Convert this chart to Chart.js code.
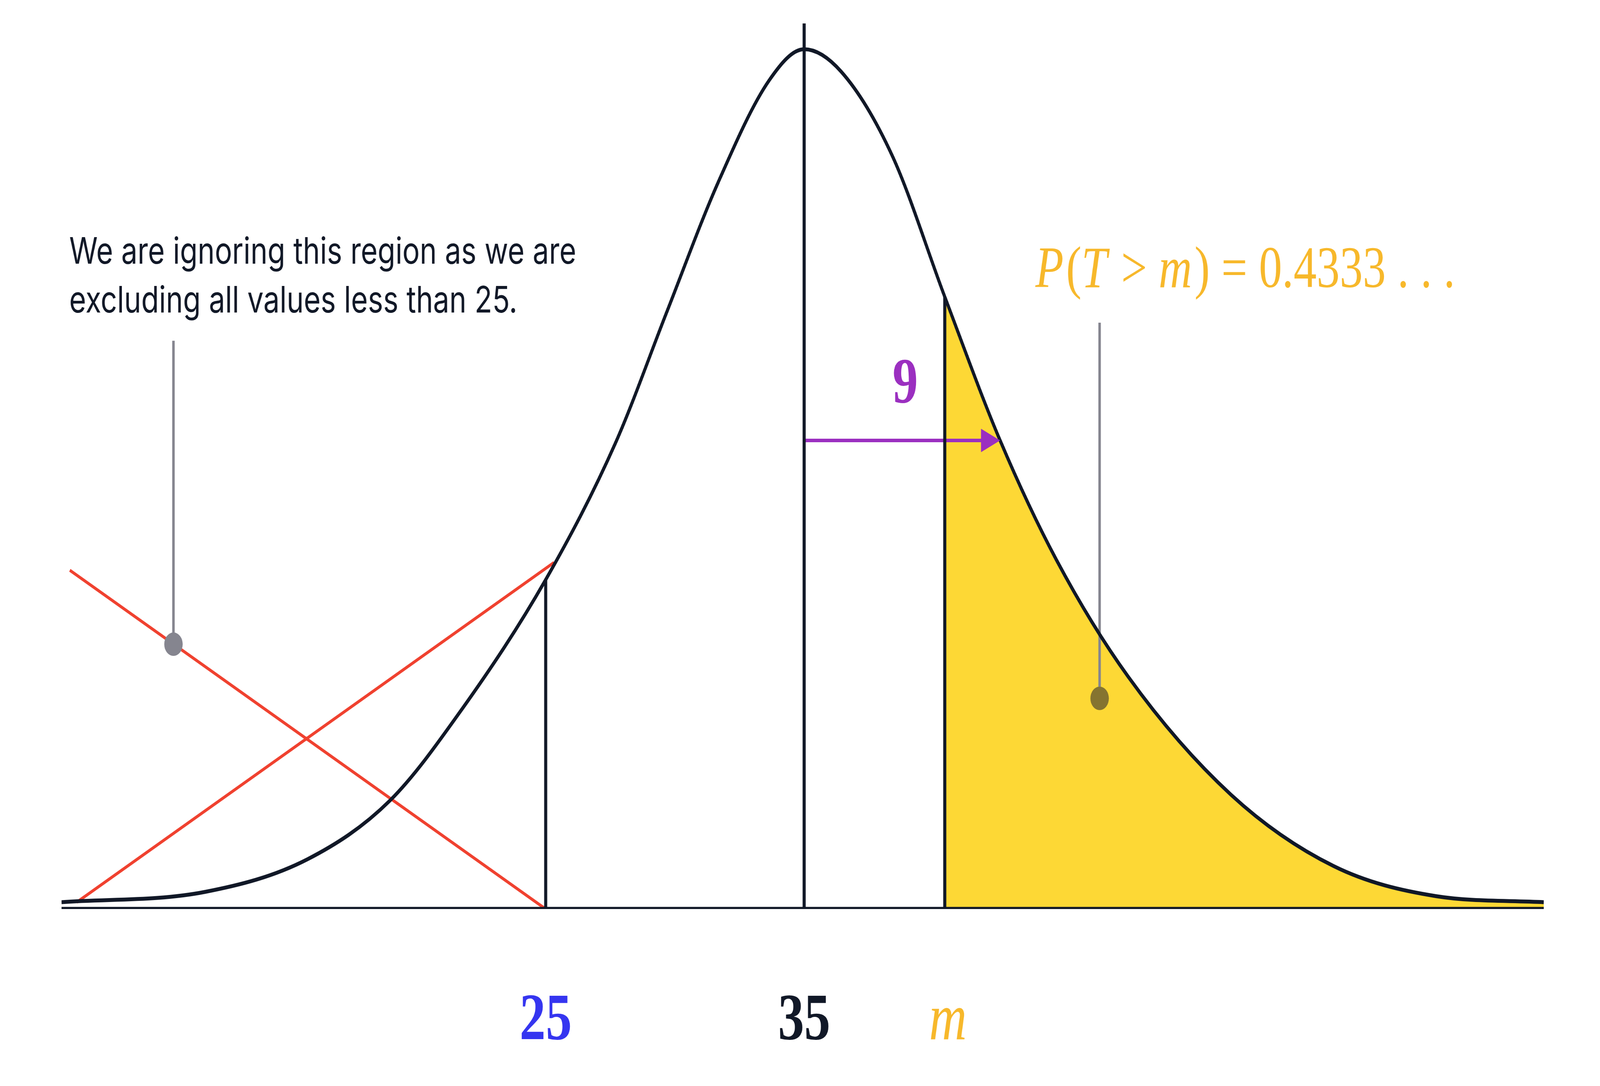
<!DOCTYPE html>
<html>
<head>
<meta charset="utf-8">
<style>
  html, body { margin: 0; padding: 0; background: #ffffff; overflow: hidden; }
  #chart { display: block; width: 100vw; height: 100vh; }
</style>
<script src="https://cdn.jsdelivr.net/npm/chart.js@4/dist/chart.umd.min.js"></script>
</head>
<body>
<canvas id="chart" width="5200" height="2780" style="width:100vw;height:100vh"></canvas>
<script>
// Curve: T values and relative heights (peak = 1)
const curveT = [6.27, 11.83, 15.79, 18.97, 21.75, 25, 27.70, 29.68, 31.67, 33.65, 35,
                36.43, 38.41, 40.44, 42.58, 44.76, 47.54, 51.51, 55.48, 59.44, 63.61];
const curveH = [0.008, 0.020, 0.058, 0.126, 0.232, 0.383, 0.542, 0.694, 0.845, 0.964, 1,
                0.974, 0.876, 0.712, 0.545, 0.406, 0.270, 0.133, 0.050, 0.015, 0.008];

const lowerCut = 25;
const mean = 35;
const mValue = 40.44;
const arrowEnd = 42.58;
const arrowHeight = 0.545;

const redLineA = [{x: 6.59, y: 0.394}, {x: 25, y: 0}];
const redLineB = [{x: 6.86, y: 0.008}, {x: 25.32, y: 0.403}];
const leftPointer = [{x: 10.6, y: 0.661}, {x: 10.6, y: 0.308}];
const rightPointer = [{x: 46.43, y: 0.682}, {x: 46.43, y: 0.245}];

const tickLabels = [
    {x: 25, text: '25', color: '#3535f0', italic: false},
    {x: 35, text: '35', color: '#111827', italic: false},
    {x: 40.44, text: 'm', color: '#f7b82b', italic: true}
];

const INK = '#111827';
const curvePts = curveT.map((t, i) => ({x: t, y: curveH[i]}));
const tailPts = curvePts.filter(p => p.x >= mValue);

function hAt(t) {
    for (let i = 0; i < curveT.length - 1; i++) {
        if (t >= curveT[i] && t <= curveT[i + 1]) {
            const f = (t - curveT[i]) / (curveT[i + 1] - curveT[i]);
            return curveH[i] + f * (curveH[i + 1] - curveH[i]);
        }
    }
    return 0;
}

function line(data, color, width, extra) {
    return Object.assign({
        data: data, borderColor: color, borderWidth: width, showLine: true,
        pointRadius: 0, fill: false, tension: 0
    }, extra || {});
}

const overlay = {
    id: 'overlay',
    afterDatasetsDraw(chart) {
        const ctx = chart.ctx;
        const xs = chart.scales.x, ys = chart.scales.y;
        ctx.save();
        // arrow head
        const ax = xs.getPixelForValue(arrowEnd), ay = ys.getPixelForValue(arrowHeight);
        ctx.fillStyle = '#9b2fc0';
        ctx.beginPath();
        ctx.moveTo(ax, ay);
        ctx.lineTo(ax - 62, ay - 30);
        ctx.lineTo(ax - 62, ay + 30);
        ctx.closePath();
        ctx.fill();
        // pointer dots
        ctx.fillStyle = '#85858f';
        ctx.beginPath();
        ctx.arc(xs.getPixelForValue(leftPointer[1].x), ys.getPixelForValue(leftPointer[1].y), 30, 0, Math.PI * 2);
        ctx.fill();
        ctx.fillStyle = '#857430';
        ctx.beginPath();
        ctx.arc(xs.getPixelForValue(rightPointer[1].x), ys.getPixelForValue(rightPointer[1].y), 30, 0, Math.PI * 2);
        ctx.fill();

        // "9"
        ctx.fillStyle = '#9b2fc0';
        ctx.font = 'bold 165px "Liberation Serif"';
        ctx.textAlign = 'center';
        ctx.textBaseline = 'alphabetic';
        ctx.fillText('9', xs.getPixelForValue((mean + arrowEnd) / 2) + 10, 1030);

        // tick labels
        tickLabels.forEach(t => {
            ctx.fillStyle = t.color;
            ctx.font = (t.italic ? 'italic ' : 'bold ') + '170px "Liberation Serif"';
            ctx.fillText(t.text, xs.getPixelForValue(t.x) + (t.italic ? 10 : 0), 2660);
        });

        // note text
        ctx.textAlign = 'left';
        ctx.fillStyle = INK;
        ctx.font = '94px Inter';
        ctx.fillText('We are ignoring this region as we are', 225, 675);
        ctx.fillText('excluding all values less than 25.', 225, 800);

        // formula
        const parts = [
            ['P', true], ['(', false], ['T', true], [' > ', false], ['m', true], [') = 0.4333 . . .', false]
        ];
        let px = 3365;
        ctx.fillStyle = '#f7b82b';
        parts.forEach(p => {
            ctx.font = (p[1] ? 'italic ' : '') + '150px "Liberation Serif"';
            ctx.fillText(p[0], px, 735);
            px += ctx.measureText(p[0]).width + (p[1] ? 8 : 0);
        });
        ctx.restore();
    }
};

new Chart(document.getElementById('chart'), {
    type: 'scatter',
    data: {
        datasets: [
            line([{x: 6.27, y: 0}, {x: 63.61, y: 0}], INK, 11),
            line(curvePts, INK, 10, {tension: 0.4, cubicInterpolationMode: 'monotone'}),
            line([{x: mean, y: 0}, {x: mean, y: 1.03}], INK, 10),
            line([{x: mValue, y: 0}, {x: mValue, y: hAt(mValue)}], INK, 10),
            line([{x: lowerCut, y: 0}, {x: lowerCut, y: hAt(lowerCut)}], INK, 10),
            line([{x: mean, y: arrowHeight}, {x: arrowEnd - 0.6, y: arrowHeight}], '#9b2fc0', 9),
            line(rightPointer, '#85858f', 8),
            line(leftPointer, '#85858f', 8),
            line(redLineB, '#f0412f', 8),
            line(redLineA, '#f0412f', 8),
            line(tailPts, 'rgba(0,0,0,0)', 0, {fill: 'origin', backgroundColor: '#fdd835',
                tension: 0.4, cubicInterpolationMode: 'monotone'})
        ]
    },
    options: {
        responsive: false,
        devicePixelRatio: 1,
        animation: false,
        layout: {padding: {left: 200, right: 183, top: 60, bottom: 453}},
        plugins: {legend: {display: false}, tooltip: {enabled: false}},
        scales: {
            x: {type: 'linear', min: 6.27, max: 63.61, display: false},
            y: {type: 'linear', min: 0, max: 1.03, display: false}
        }
    },
    plugins: [overlay]
});
</script>
</body>
</html>
